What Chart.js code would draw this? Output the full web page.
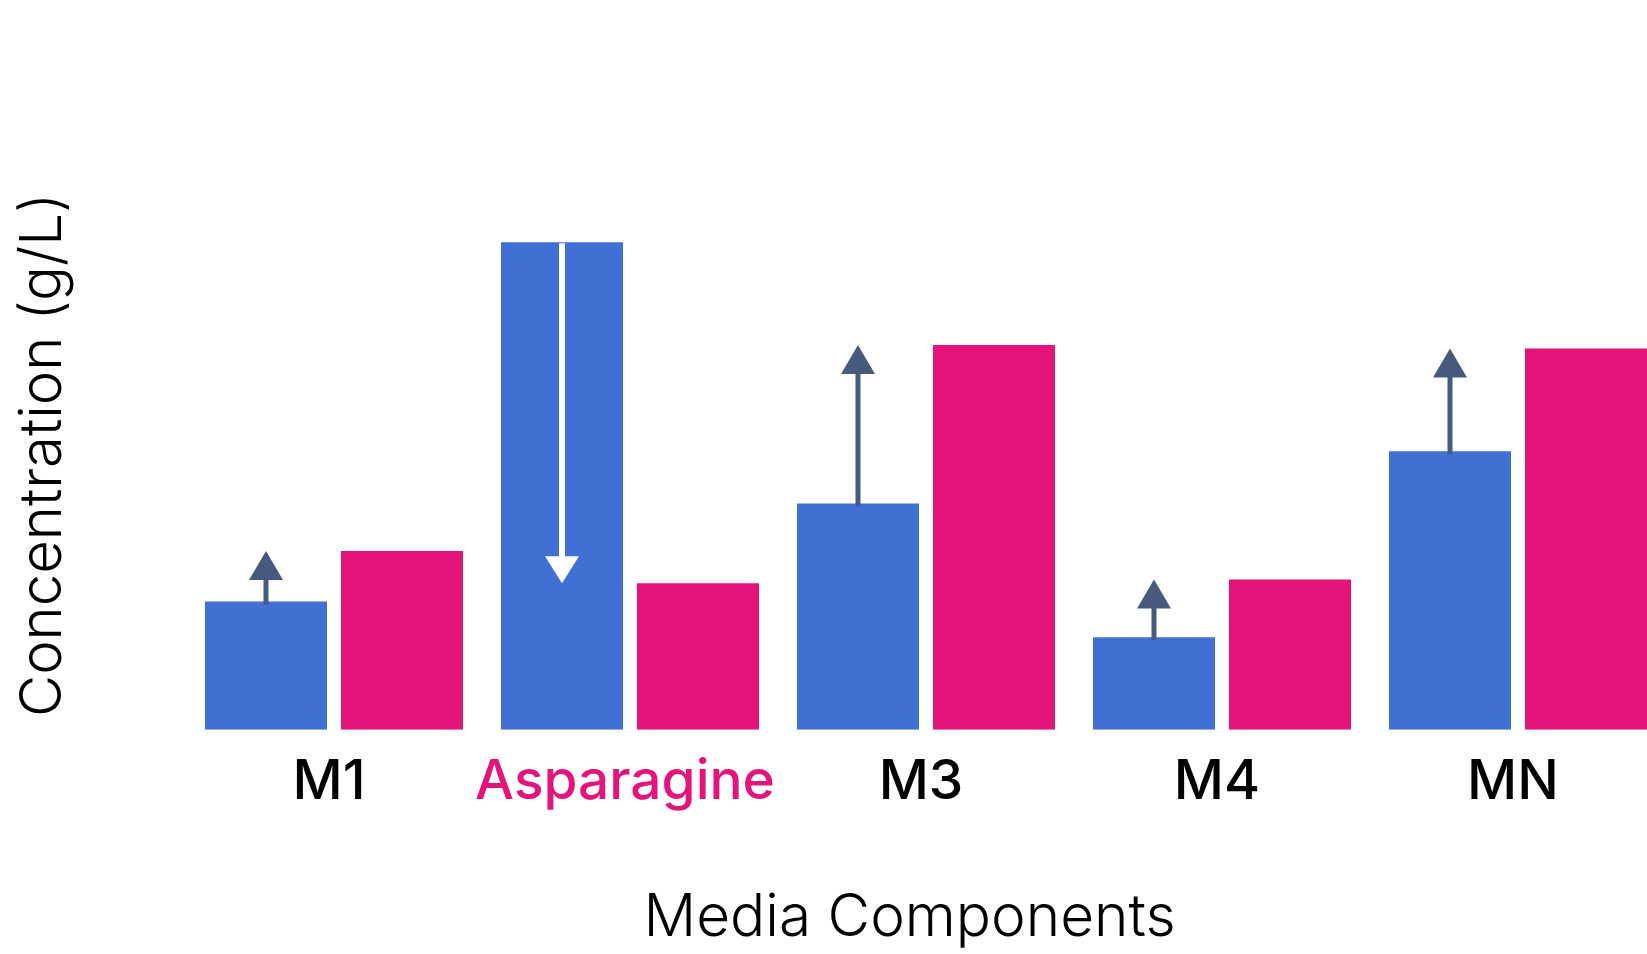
<!DOCTYPE html>
<html>
<head>
<meta charset="utf-8">
<script src="https://cdn.jsdelivr.net/npm/chart.js@4.4.1/dist/chart.umd.min.js"></script>
<style>
  html, body { margin: 0; padding: 0; background: #fff; overflow: hidden; }
  #wrap { position: relative; width: 1666px; height: 954px; }
</style>
</head>
<body>
<div id="wrap"><canvas id="chart"></canvas></div>
<script>
const categories = ["M1", "Asparagine", "M3", "M4", "MN"];
const before = [1.40, 5.32, 2.47, 1.01, 3.04];
const after = [1.95, 1.60, 4.20, 1.64, 4.16];

const BLUE = "#4170d4";
const PINK = "#e4147a";
const ARROW = "#475a7e";
const highlight = "Asparagine";

// arrow from the top of each blue bar to the level of the pink bar
const changeArrows = {
  id: "changeArrows",
  afterDatasetsDraw(chart) {
    const { ctx } = chart;
    const yScale = chart.scales.y;
    const bars = chart.getDatasetMeta(0).data;
    bars.forEach((bar, i) => {
      const from = bar.y;
      const to = yScale.getPixelForValue(after[i]);
      const up = to < from;
      const headH = up ? 29 : 27;
      const headW = 34;
      ctx.save();
      ctx.fillStyle = up ? ARROW : "#ffffff";
      const shaftW = up ? 5 : 6;
      if (up) {
        ctx.fillRect(bar.x - shaftW / 2, to + headH - 1, shaftW, from - to - headH + 4);
        ctx.beginPath();
        ctx.moveTo(bar.x, to);
        ctx.lineTo(bar.x + headW / 2, to + headH);
        ctx.lineTo(bar.x - headW / 2, to + headH);
        ctx.closePath();
        ctx.fill();
      } else {
        ctx.fillRect(bar.x - shaftW / 2, from + 1, shaftW, to - from - headH);
        ctx.beginPath();
        ctx.moveTo(bar.x, to);
        ctx.lineTo(bar.x + headW / 2, to - headH);
        ctx.lineTo(bar.x - headW / 2, to - headH);
        ctx.closePath();
        ctx.fill();
      }
      ctx.restore();
    });
  }
};

new Chart(document.getElementById("chart").getContext("2d"), {
  type: "bar",
  data: {
    labels: categories,
    datasets: [
      { label: "Before", data: before, backgroundColor: BLUE },
      { label: "After", data: after, backgroundColor: PINK },
    ],
  },
  options: {
    responsive: true,
    maintainAspectRatio: false,
    animation: false,
    categoryPercentage: 0.919,
    barPercentage: 0.897,
    layout: { padding: { left: 9, top: 180, right: 0, bottom: 0 } },
    plugins: {
      legend: { display: false },
      tooltip: { enabled: false },
    },
    scales: {
      x: {
        grid: { display: false },
        border: { display: false },
        ticks: {
          padding: 12,
          labelOffset: -5,
          font: { family: "Inter", size: 55, weight: 500 },
          color: (c) => (categories[c.index] === highlight ? PINK : "#000000"),
          maxRotation: 0,
          autoSkip: false,
        },
        title: {
          display: true,
          text: "Media Components  ",
          color: "#000000",
          font: { family: "Inter", size: 58.5, weight: 300 },
          padding: { top: 56, bottom: 0 },
        },
      },
      y: {
        min: 0,
        max: 6,
        grid: { display: false },
        border: { display: false },
        ticks: { display: false },
        afterFit: (s) => { s.width = 177; },
        title: {
          display: true,
          text: "Concentration (g/L)",
          color: "#000000",
          font: { family: "Inter", size: 58, weight: 300 },
          padding: { top: 0, bottom: 0 },
        },
      },
    },
  },
  plugins: [changeArrows],
});
</script>
</body>
</html>
